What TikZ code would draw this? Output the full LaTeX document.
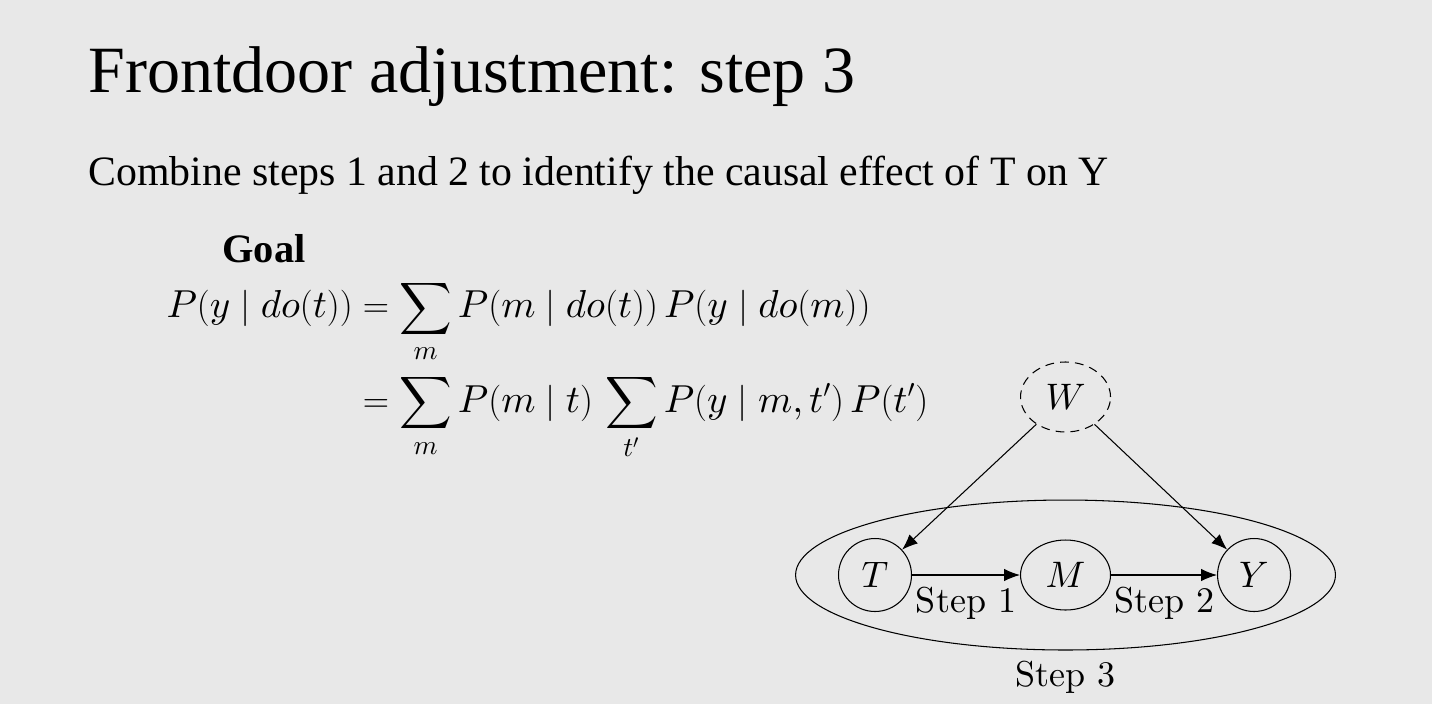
\documentclass[tikz,border=0pt]{standalone}
\usepackage{amsmath}
\usepackage{fontspec}
\newfontfamily\slidefont{Liberation Serif}
\newfontfamily\stepfont{lmroman10-regular}[Extension=.otf]
\DeclareFontShape{OML}{cmm}{m}{it}{<->cmmi10}{}
\usetikzlibrary{arrows.meta, shapes, shapes.geometric, positioning}
\definecolor{slidebg}{HTML}{E8E8E8}

\begin{document}
\begin{tikzpicture}[x=0.02cm, y=-0.02cm, line width=0.6pt,
  var/.style={draw, shape=circle, minimum size=1.46cm, inner sep=0pt, font=\fontsize{21}{25}\selectfont},
  oval/.style={draw, ellipse, minimum height=1.4cm, minimum width=1.8cm, inner sep=0pt, font=\fontsize{21}{25}\selectfont},
  steplabel/.style={font=\stepfont\fontsize{20.5}{24}\selectfont},
  slidetext/.style={anchor=base west, inner sep=0pt}
  ]

  \fill[slidebg] (0,0) rectangle (1432,704);
  \useasboundingbox (0,0) rectangle (1432,704);

  \draw node[slidetext, font=\slidefont\fontsize{37.6}{42}\selectfont] (title) at (88,92) {Frontdoor adjustment: step 3};
  \draw node[slidetext, font=\slidefont\fontsize{23.8}{28}\selectfont] (sub) at (88,185) {Combine steps 1 and 2 to identify the causal effect of T on Y};
  \draw node[slidetext, font=\slidefont\bfseries\fontsize{23}{27}\selectfont] (goal) at (222,262) {Goal};

  \draw node[anchor=north west, inner sep=0pt, font=\fontsize{22.2}{26}\selectfont] (eq) at (166,279)
  {$\begin{aligned}
    P(y\mid do(t)) &= \sum_{m} P(m\mid do(t))\, P(y\mid do(m))\\[2pt]
    &= \sum_{m} P(m\mid t)\, \sum_{t'} P(y\mid m,t')\, P(t')
  \end{aligned}$};

  \draw node[var] (T) at (875,575) {$T$}
  node[oval, right=2.16cm of T] (M) {$M$}
  node[var, right=2.12cm of M] (Y) {$Y$}
  node[oval, dash pattern=on 5pt off 3.5pt, above=2.14cm of M] (W) {$W$};

  \draw node[draw, ellipse, minimum width=10.8cm, minimum height=3cm] (step3) at (M) {};
  \draw node[steplabel, below=0.08cm of step3] (step3lab) {Step 3};

  \path[-{Latex[length=9pt, width=7pt]}] (T) edge node[below, yshift=-3pt, steplabel]{Step 1} (M)
  (M) edge node[below, yshift=-3pt, steplabel]{Step 2} (Y)
  (W) edge (T)
  (W) edge (Y);
\end{tikzpicture}
\end{document}
